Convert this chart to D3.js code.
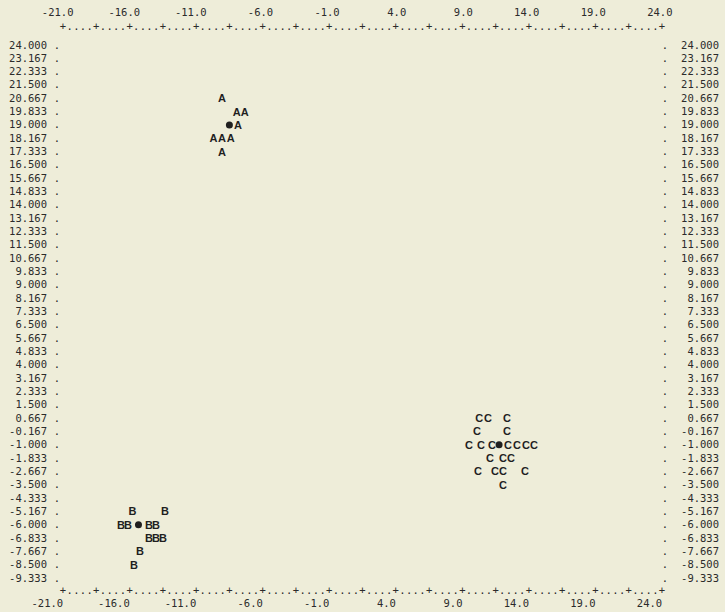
<!DOCTYPE html>
<html><head><meta charset="utf-8">
<script src="https://cdn.jsdelivr.net/npm/d3@7"></script>
<style>
html,body{margin:0;padding:0;background:#EEEDD9;}
svg{display:block;}
</style></head>
<body><svg id="chart" width="725" height="612"></svg>
<script>
// ---- data ----
const xTickValues = [-21, -16, -11, -6, -1, 4, 9, 14, 19, 24];
const xTickLabels = ["-21.0","-16.0","-11.0","-6.0","-1.0","4.0","9.0","14.0","19.0","24.0"];
const yTickLabels = ["24.000","23.167","22.333","21.500","20.667","19.833","19.000","18.167","17.333","16.500",
  "15.667","14.833","14.000","13.167","12.333","11.500","10.667","9.833","9.000","8.167","7.333","6.500",
  "5.667","4.833","4.000","3.167","2.333","1.500","0.667","-0.167","-1.000","-1.833","-2.667","-3.500",
  "-4.333","-5.167","-6.000","-6.833","-7.667","-8.500","-9.333"];
const groupA_x = [-9.05, -7.95, -7.35, -7.85, -9.7, -9.05, -8.4, -9.05];
const groupA_y = [20.667, 19.833, 19.833, 19.0, 18.167, 18.167, 18.167, 17.333];
const groupB_x = [-15.78, -13.34, -16.64, -16.12, -14.54, -14.01, -14.54, -14.01, -13.49, -15.21, -15.67];
const groupB_y = [-5.167, -5.167, -6.0, -6.0, -6.0, -6.0, -6.833, -6.833, -6.833, -7.667, -8.5];
const groupC_x = [10.26, 10.93, 12.36, 10.1, 12.36, 9.5, 10.4, 11.23, 12.43, 13.1, 13.79, 14.39, 11.08, 12.06, 12.66, 10.18, 11.46, 12.06, 13.71, 12.06];
const groupC_y = [0.667, 0.667, 0.667, -0.167, -0.167, -1.0, -1.0, -1.0, -1.0, -1.0, -1.0, -1.0, -1.833, -1.833, -1.833, -2.667, -2.667, -2.667, -2.667, -3.5];
const centroid_x = [-8.5, -15.33, 11.76];
const centroid_y = [19.0, -6.0, -1.0];
const groupLabels = ["A", "B", "C"];

// ---- chart ----
const svg = d3.select("#chart");
const ink = "#2b2b2b";
const labelFont = "'DejaVu Sans Mono', monospace";
const cw = 6.32; // char width of label font

const x = d3.scaleLinear().domain([-21, 24]).range([63, 662]);
const y = d3.scaleLinear().domain([-9.333, 24]).range([578, 45]);

svg.append("rect").attr("width", 725).attr("height", 612).attr("fill", "#EEEDD9");

// horizontal "+....+" frame lines (top & bottom)
const minorX = d3.range(0, 91).map(i => -21 + i * 0.5);
function frameLine(yPos) {
  const g = svg.append("g").attr("font-family", labelFont).attr("font-size", 10.5).attr("fill", ink).attr("text-anchor", "middle");
  g.selectAll("text").data(minorX).join("text")
    .attr("x", d => x(d)).attr("y", yPos)
    .text((d, i) => (i % 5 === 0) ? "+" : ".");
}
frameLine(30);
frameLine(594);

// x tick labels (top and bottom)
const gxt = svg.append("g").attr("font-family", labelFont).attr("font-size", 10.5).attr("fill", ink).attr("text-anchor", "end");
gxt.selectAll("text").data(xTickValues).join("text")
  .attr("x", d => x(d) + 1.5 * cw + 1).attr("y", 16)
  .text((d, i) => xTickLabels[i]);
const gxb = svg.append("g").attr("font-family", labelFont).attr("font-size", 10.5).attr("fill", ink).attr("text-anchor", "end");
gxb.selectAll("text").data(xTickValues).join("text")
  .attr("x", d => x(d) + 0.5 * cw - 3).attr("y", 607)
  .text((d, i) => xTickLabels[i]);

// y rows: labels and dotted side frames
const rowVals = yTickLabels.map(s => +s);
const gy = svg.append("g").attr("font-family", labelFont).attr("font-size", 10.5).attr("fill", ink);
gy.selectAll("text.l").data(rowVals).join("text").attr("class", "l")
  .attr("text-anchor", "end").attr("x", 47).attr("y", d => y(d) + 3.5)
  .text((d, i) => yTickLabels[i]);
gy.selectAll("text.ld").data(rowVals).join("text").attr("class", "ld")
  .attr("text-anchor", "middle").attr("x", 57).attr("y", d => y(d) + 3.5).text(".");
gy.selectAll("text.rd").data(rowVals).join("text").attr("class", "rd")
  .attr("text-anchor", "middle").attr("x", 665).attr("y", d => y(d) + 3.5).text(".");
gy.selectAll("text.r").data(rowVals).join("text").attr("class", "r")
  .attr("text-anchor", "end").attr("x", 719).attr("y", d => y(d) + 3.5)
  .text((d, i) => yTickLabels[i]);

// points
const groups = [
  {lab: groupLabels[0], xs: groupA_x, ys: groupA_y},
  {lab: groupLabels[1], xs: groupB_x, ys: groupB_y},
  {lab: groupLabels[2], xs: groupC_x, ys: groupC_y}
];
const gp = svg.append("g").attr("font-family", "'Liberation Sans', Arial, sans-serif")
  .attr("font-weight", "bold").attr("font-size", 11).attr("fill", "#1f1f1f").attr("text-anchor", "middle");
groups.forEach(gr => {
  gp.append("g").selectAll("text").data(gr.xs.map((v, i) => [v, gr.ys[i]])).join("text")
    .attr("x", d => x(d[0])).attr("y", d => y(d[1]) + 4)
    .text(gr.lab);
});
svg.append("g").selectAll("circle").data(centroid_x.map((v, i) => [v, centroid_y[i]])).join("circle")
  .attr("cx", d => x(d[0])).attr("cy", d => y(d[1])).attr("r", 3.5).attr("fill", "#1f1f1f");
</script></body></html>
